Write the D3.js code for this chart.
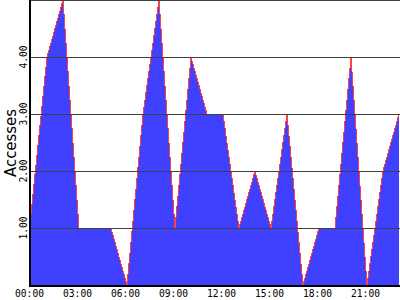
<!DOCTYPE html>
<html><head><meta charset="utf-8">
<script src="https://cdn.jsdelivr.net/npm/d3@7"></script>
<style>body{margin:0;background:#fff}svg{display:block}</style>
</head><body>
<svg id="c" width="400" height="300"></svg>
<script>
const hours = [0,1,2,3,4,5,6,7,8,9,10,11,12,13,14,15,16,17,18,19,20,21,22,23];
const accesses = [1.25,4,5,1,1,1,0,3,5,1,4,3,3,1,2,1,3,0,1,1,4,0,2,3];
const xTickHours = [0,3,6,9,12,15,18,21];
const xTickLabels = ["00:00","03:00","06:00","09:00","12:00","15:00","18:00","21:00"];
const yTicks = [1,2,3,4];
const yTickLabels = ["1.00","2.00","3.00","4.00"];
const yGrid = [1,2,3,4,5];
const yTitle = "Accesses";

const svg = d3.select("#c");
const x = d3.scaleLinear().domain([0,24]).range([31,415]);
const y = d3.scaleLinear().domain([0,5]).range([285,0]);
const data = hours.map((h,i)=>({h, v: accesses[i]}));

svg.append("defs").append("clipPath").attr("id","clip")
  .append("rect").attr("x",31).attr("y",0).attr("width",369).attr("height",285);

const g = svg.append("g").attr("clip-path","url(#clip)");
g.append("path").datum(data)
  .attr("d", d3.area().x(d=>x(d.h)).y0(y(0)).y1(d=>y(d.v)))
  .attr("fill","#4040ff").attr("shape-rendering","crispEdges");

// gridlines
svg.append("g").selectAll("line").data(yGrid).join("line")
  .attr("x1",31).attr("x2",400)
  .attr("y1",d=>Math.round(y(d))+0.5).attr("y2",d=>Math.round(y(d))+0.5)
  .attr("stroke","#404040").attr("stroke-width",1).attr("shape-rendering","crispEdges");

g.append("path").datum(data)
  .attr("d", d3.line().x(d=>x(d.h)).y(d=>y(d.v)))
  .attr("fill","none").attr("stroke","#ff4040").attr("stroke-width",1)
  .attr("shape-rendering","crispEdges");

// axes lines
svg.append("line").attr("x1",30).attr("x2",30).attr("y1",0).attr("y2",287)
  .attr("stroke","#000").attr("stroke-width",2).attr("shape-rendering","crispEdges");
svg.append("line").attr("x1",29).attr("x2",400).attr("y1",286).attr("y2",286)
  .attr("stroke","#000").attr("stroke-width",2).attr("shape-rendering","crispEdges");

// x tick labels
svg.append("g").selectAll("text").data(xTickHours).join("text")
  .attr("x",d=>x(d)-1.5).attr("y",297)
  .attr("text-anchor","middle")
  .attr("font-family","DejaVu Sans Mono, monospace").attr("font-size",11)
  .attr("textLength",29).attr("lengthAdjust","spacingAndGlyphs")
  .attr("fill","#000")
  .text((d,i)=>xTickLabels[i]);

// y tick labels
svg.append("g").selectAll("text").data(yTicks).join("text")
  .attr("transform",d=>`translate(27,${y(d)}) rotate(-90)`)
  .attr("text-anchor","middle")
  .attr("font-family","DejaVu Sans Mono, monospace").attr("font-size",11)
  .attr("textLength",23).attr("lengthAdjust","spacingAndGlyphs")
  .attr("fill","#000")
  .text((d,i)=>yTickLabels[i]);

// y title
svg.append("text")
  .attr("transform","translate(16,143) rotate(-90)")
  .attr("text-anchor","middle")
  .attr("font-family","DejaVu Sans, sans-serif").attr("font-size",16)
  .attr("textLength",68).attr("lengthAdjust","spacingAndGlyphs")
  .attr("fill","#000")
  .text(yTitle);
</script>
</body></html>
